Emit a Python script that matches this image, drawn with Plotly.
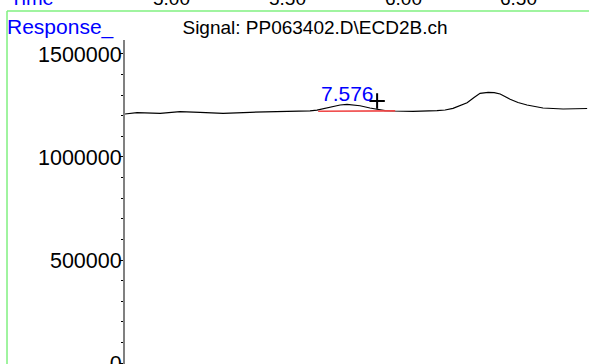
import plotly.graph_objects as go

# Chromatogram trace: retention time (min) vs detector response
time_min = [6.616, 6.668, 6.768, 6.854, 6.940, 7.040, 7.157, 7.243, 7.360, 7.416,
            7.446, 7.502, 7.546, 7.576, 7.611, 7.632, 7.675, 7.706, 7.740, 7.775,
            7.861, 7.965, 8.000, 8.034, 8.065, 8.095, 8.125, 8.151, 8.186, 8.212,
            8.238, 8.281, 8.315, 8.354, 8.423, 8.510, 8.614]
response = [1208600, 1214900, 1212000, 1219800, 1216900, 1212000, 1216900, 1218300,
            1221700, 1223700, 1227100, 1241200, 1252300, 1255700, 1252300, 1248900,
            1237800, 1230500, 1224700, 1223200, 1221700, 1224700, 1228100, 1236300,
            1249900, 1263500, 1288700, 1309100, 1314000, 1312500, 1305700, 1280000,
            1264500, 1252300, 1237800, 1232900, 1235300]

# Integrated peak and its baseline
peak_rt = 7.576
baseline_time = [7.451, 7.784]
baseline_resp = [1222000, 1224000]
marker_time = [7.706]
marker_resp = [1271700]

# Axis ticks
y_ticks = [0, 500000, 1000000, 1500000]
top_time_ticks = [5.0, 5.5, 6.0, 6.5]

signal_title = "Signal: PP063402.D\\ECD2B.ch"
FONT = "Liberation Sans, Arial, sans-serif"

fig = go.Figure()
fig.add_trace(go.Scatter(x=time_min, y=response, mode="lines",
                         line=dict(color="black", width=1.2), hoverinfo="skip"))
fig.add_trace(go.Scatter(x=baseline_time, y=baseline_resp, mode="lines",
                         line=dict(color="#f04848", width=1.6), hoverinfo="skip"))
fig.add_trace(go.Scatter(x=marker_time, y=marker_resp, mode="markers",
                         marker=dict(symbol="cross-thin", size=11,
                                     line=dict(color="black", width=2)),
                         hoverinfo="skip"))
# invisible trace to carry the upper time axis
fig.add_trace(go.Scatter(x=top_time_ticks, y=[None] * len(top_time_ticks),
                         xaxis="x2", mode="markers", showlegend=False,
                         hoverinfo="skip"))

peak_y = response[time_min.index(peak_rt)]
annotations = [
    dict(x=peak_rt, y=peak_y, xref="x", yref="y", text=f"{peak_rt:.3f}",
         showarrow=False, yanchor="bottom", xanchor="center", yshift=-3,
         font=dict(family=FONT, size=21, color="#0000ff")),
    dict(x=-0.2586, y=1.040, xref="paper", yref="paper", text="Response_",
         showarrow=False, xanchor="left", yanchor="middle",
         font=dict(family=FONT, size=21, color="#0000ff")),
    dict(x=-0.2522, y=1.0895, xref="paper", yref="paper", text="Time",
         showarrow=False, xanchor="left", yanchor="bottom", yshift=0,
         font=dict(family=FONT, size=20, color="#0000ff")),
]
for t in top_time_ticks:
    annotations.append(dict(x=t, y=1.0895, xref="x2", yref="paper",
                            text=f"{t:.2f}", showarrow=False,
                            xanchor="center", yanchor="bottom",
                            font=dict(family=FONT, size=19, color="black")))

green = "#80f080"
fig.update_layout(
    width=589, height=364,
    margin=dict(l=125, r=0, t=40, b=0, autoexpand=False),
    paper_bgcolor="white", plot_bgcolor="white",
    showlegend=False,
    font=dict(family=FONT, color="black"),
    title=dict(text=signal_title, x=0.4095, xref="paper", xanchor="center",
               y=1 - 27 / 364, yref="container", yanchor="middle",
               font=dict(family=FONT, size=19, color="black")),
    xaxis=dict(range=[6.616, 8.622], visible=False),
    xaxis2=dict(range=[4.797, 6.803], overlaying="x", side="top",
                visible=False),
    yaxis=dict(range=[-4854, 1567900], tickvals=y_ticks,
               ticktext=[str(v) for v in y_ticks],
               ticks="outside", ticklen=3, tickwidth=1, tickcolor="black",
               ticklabeloverflow="allow", ticklabelstandoff=-6,
               automargin=False,
               showline=True, linecolor="#808080", linewidth=2,
               showgrid=False, zeroline=False,
               tickfont=dict(family=FONT, size=21.5, color="black"),
               minor=dict(dtick=100000, ticks="outside", ticklen=2,
                          tickcolor="black", tickwidth=1, showgrid=False)),
    annotations=annotations,
    shapes=[
        dict(type="line", xref="paper", yref="paper", x0=-0.2543, x1=1.02,
             y0=1.0895, y1=1.0895, line=dict(color=green, width=1.5)),
        dict(type="line", xref="paper", yref="paper", x0=-0.2543, x1=-0.2543,
             y0=1.0895, y1=-0.02, line=dict(color=green, width=1.5)),
    ],
)

fig.write_html("out.html")
